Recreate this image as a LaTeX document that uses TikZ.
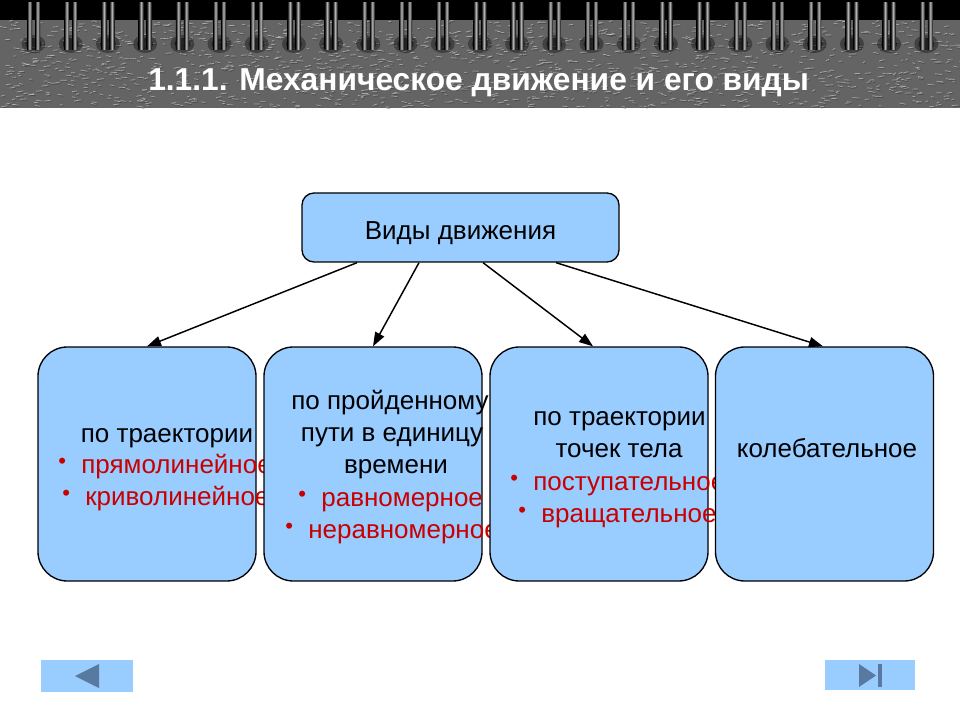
\documentclass[tikz,border=0pt]{standalone}
\usepackage{fontspec}
\setmainfont{Liberation Sans}
\usepackage{graphicx}
\usetikzlibrary{positioning,arrows.meta,calc}

\definecolor{boxblue}{RGB}{153,204,255}
\definecolor{navblue}{RGB}{88,122,160}
\definecolor{itemred}{RGB}{200,0,0}
\definecolor{bannergray}{RGB}{100,100,100}

\newcommand{\itembul}{\raisebox{3.5pt}{\scalebox{0.85}{•}}\hspace{11.5pt}}

\begin{document}
\begin{tikzpicture}[x=0.75pt, y=-0.75pt,
  box/.style={draw, fill=boxblue, line width=1pt, rounded corners=22pt,
    minimum width=163.5pt, minimum height=175.5pt, inner sep=0pt},
  topbox/.style={draw, fill=boxblue, line width=1pt, rounded corners=9pt,
    minimum width=237.75pt, minimum height=51.75pt, inner sep=0pt},
  txt/.style={inner sep=0pt, anchor=base, font=\fontsize{19.5}{23}\selectfont},
  item/.style={txt, anchor=base west, text=itemred},
  navbtn/.style={fill=boxblue, inner sep=0pt},
  link/.style={-{Triangle[length=10.5pt,width=7.5pt]}, line width=1.1pt}]
\useasboundingbox (0,0) rectangle (960,720);
\fill[white] (0,0) rectangle (960,720);

% banner
\fill[black] (0,0) rectangle (960,22);
\fill[bannergray] (0,20) rectangle (960,108);
\pgfmathsetseed{11}
\foreach \k in {1,...,1400} {
  \pgfmathsetmacro\px{rnd*960}
  \pgfmathsetmacro\py{21+rnd*86}
  \pgfmathsetmacro\dx{2+rnd*5}
  \pgfmathsetmacro\dy{rnd*3-1.5}
  \draw[gray!45, line width=0.5pt, opacity=0.7] (\px,\py) -- ++(\dx,\dy);
  \draw[black!75, line width=0.5pt, opacity=0.6] (\px+1,\py+1.2) -- ++(\dx,\dy);
}
\foreach \i in {0,...,24} {
  \fill[black, opacity=0.35] ({33.5+37.2*\i},44) ellipse [x radius=12, y radius=9];
  \fill[black, opacity=0.45] ({33.5+37.2*\i},44) ellipse [x radius=8, y radius=6];
  \shade[left color=black, right color=black, middle color=gray!55]
    ({27+37.2*\i},3) rectangle ({32+37.2*\i},50);
  \shade[left color=black, right color=black, middle color=gray!55]
    ({35+37.2*\i},3) rectangle ({40+37.2*\i},50);
}
\node[anchor=base west, inner sep=0pt, text=white, font=\fontsize{23.8}{28}\selectfont\bfseries]
  (title) at (148,91) {1.1.1. Механическое движение и его виды};

\node[topbox] (kinds) at (460.5,227.5) {};
\node[txt] (kindsT) at (460.5,240) {Виды движения};

% path shape
\node[box] (path) at (147,464) {};
\node[txt] (pathA) at (167,442) {по траектории};
\node[item] (pathB) at (58,473) {\itembul прямолинейное};
\node[item] (pathC) at (62,505) {\itembul криволинейное};

% speed
\node[box] (speed) at (373,464) {};
\node[txt] (speedA) at (390,409) {по пройденному};
\node[txt] (speedB) at (392,441) {пути в единицу};
\node[txt] (speedC) at (396,473) {времени};
\node[item] (speedD) at (298,506) {\itembul равномерное};
\node[item] (speedE) at (285,538) {\itembul неравномерное};

% body points
\node[box] (body) at (599,464) {};
\node[txt] (bodyA) at (619.5,425) {по траектории};
\node[txt] (bodyB) at (619,457) {точек тела};
\node[item] (bodyC) at (510,490) {\itembul поступательное};
\node[item] (bodyD) at (518,522) {\itembul вращательное};

% oscillation
\node[box] (osc) at (824.5,464) {};
\node[txt] (oscA) at (827,457) {колебательное};

\draw[link] ($(kinds.south)+(-103.5,0)$) -- (path.north);
\draw[link] ($(kinds.south)+(-41.5,0)$) -- (speed.north);
\draw[link] ($(kinds.south)+(22.5,0)$) -- ($(body.north)+(-6,0)$);
\draw[link] ($(kinds.south)+(95.5,0)$) -- ($(osc.north)+(-1.5,0)$);

% navigation
\node[navbtn, minimum width=69pt, minimum height=24pt] (back) at (87,676) {};
\fill[navblue] (75,676) -- (99,664) -- (99,688) -- cycle;
\node[navbtn, minimum width=67.5pt, minimum height=22.5pt] (next) at (870,675) {};
\fill[navblue] (859,664) -- (876,675.5) -- (859,687) -- cycle;
\fill[navblue] (878,664) rectangle (881.5,687);
\end{tikzpicture}
\end{document}
